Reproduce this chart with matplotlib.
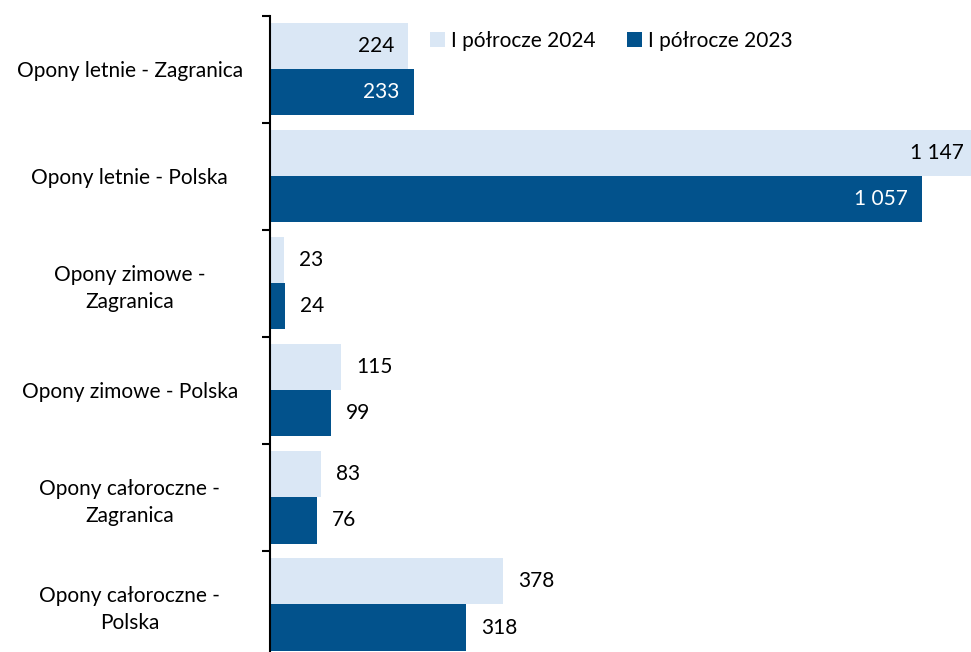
import matplotlib.pyplot as plt
import numpy as np

categories = ["Opony letnie - Zagranica", "Opony letnie - Polska",
              "Opony zimowe -\nZagranica", "Opony zimowe - Polska",
              "Opony całoroczne -\nZagranica", "Opony całoroczne -\nPolska"]
h1_2024 = [224, 1147, 23, 115, 83, 378]
h1_2023 = [233, 1057, 24, 99, 76, 318]
series_names = ["I półrocze 2024", "I półrocze 2023"]
# which groups get the value label inside the bar end
label_inside = [True, True, False, False, False, False]

col_light = "#dae7f5"
col_dark = "#02528c"

plt.rcParams['font.family'] = ['Lato', 'DejaVu Sans']

fig = plt.figure(figsize=(9.71, 6.52), dpi=100)
ax = fig.add_axes([0.278, -0.0092, 0.737, 0.9847])

y = np.arange(len(categories))
bh = 0.43
b1 = ax.barh(y - bh / 2, h1_2024, height=bh, color=col_light, label=series_names[0])
b2 = ax.barh(y + bh / 2, h1_2023, height=bh, color=col_dark, label=series_names[1])

ax.set_xlim(0, 1160)
ax.set_ylim(len(categories) - 0.5, -0.5)


def fmt(v):
    return "{:,}".format(v).replace(",", " ")


for bars, vals, inside_col in [(b1, h1_2024, "black"), (b2, h1_2023, "white")]:
    for bar, v, inside in zip(bars, vals, label_inside):
        yc = bar.get_y() + bar.get_height() / 2
        if inside:
            ax.annotate(fmt(v), (v, yc), xytext=(-10, 0), textcoords="offset points",
                        ha="right", va="center", fontsize=15, color=inside_col)
        else:
            ax.annotate(fmt(v), (v, yc), xytext=(11, 0), textcoords="offset points",
                        ha="left", va="center", fontsize=15, color="black")

ax.set_yticks(y)
ax.set_yticklabels(categories, fontsize=15, ha="center", linespacing=1.4)
ax.tick_params(axis="y", which="major", length=0, pad=101)
ax.set_yticks(np.arange(-0.5, len(categories), 1), minor=True)
ax.tick_params(axis="y", which="minor", length=6, width=1.5, direction="out")
ax.set_xticks([])
for s in ["top", "right", "bottom"]:
    ax.spines[s].set_visible(False)
ax.spines["left"].set_linewidth(1.5)

fig.legend(handles=[b1, b2], labels=series_names, loc="center left",
           bbox_to_anchor=(0.424, 0.937), ncol=2, frameon=False, fontsize=15,
           handlelength=0.7, handleheight=0.7, handletextpad=0.3, columnspacing=1.5)

fig.savefig("out.png", dpi=100)
